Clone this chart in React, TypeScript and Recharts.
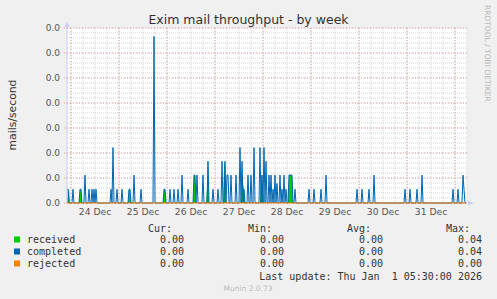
import { ComposedChart, Area, Line, XAxis, YAxis, CartesianGrid } from "recharts";

// half-hour slots on the x axis, oldest first
const SLOT_COUNT = 400;

const dayLabels = ["24 Dec", "25 Dec", "26 Dec", "27 Dec", "28 Dec", "29 Dec", "30 Dec", "31 Dec"];
const noonSlots = [28, 76, 124, 172, 220, 268, 316, 364];
const midnightSlots = [4, 52, 100, 148, 196, 244, 292, 340, 388];
const yTicks = [0, 0.006, 0.012, 0.018, 0.024, 0.03, 0.036, 0.042];

// mails/second, only the non-zero slots
const completedSlots = [
  0, 1, 6, 13, 14, 18, 22, 25, 27, 29, 44, 46, 50, 55, 62, 63, 67, 74, 87,
  97, 98, 103, 107, 111, 115, 121, 127, 128, 130, 136, 141, 146, 151, 155, 158,
  160, 161, 164, 169, 173, 175, 177, 181, 184, 187, 193, 195, 197, 199, 202,
  204, 206, 208, 210, 213, 215, 217, 219, 222, 223, 224, 225, 228, 242, 247,
  254, 259, 290, 295, 302, 307, 338, 343, 350, 355, 386, 391, 396, 397,
];
const completedValues = [
  0.0033, 0.0033, 0.0033, 0.0033, 0.0033, 0.0067, 0.0033, 0.0033, 0.0033, 0.0033, 0.0033, 0.0133, 0.0033, 0.0033, 0.0033, 0.0033, 0.0067, 0.0033, 0.04,
  0.0033, 0.0033, 0.0033, 0.0033, 0.0033, 0.0067, 0.0033, 0.0067, 0.0067, 0.0067, 0.0067, 0.01, 0.0033, 0.0033, 0.01, 0.01,
  0.0067, 0.0067, 0.0067, 0.0067, 0.0133, 0.01, 0.0033, 0.0067, 0.0067, 0.0133, 0.0133, 0.0067, 0.0133, 0.01, 0.0067,
  0.0067, 0.0033, 0.0067, 0.0047, 0.0067, 0.0033, 0.0067, 0.0033, 0.0067, 0.0067, 0.0067, 0.0067, 0.0033, 0.0033, 0.0033,
  0.0033, 0.0067, 0.0033, 0.0033, 0.0033, 0.0067, 0.0033, 0.0033, 0.0033, 0.0067, 0.0033, 0.0033, 0.0067, 0.0033,
];

const receivedSlots = [1, 2, 13, 14, 62, 63, 97, 98, 127, 128, 140, 141, 157, 158, 175, 176, 177, 194, 195, 196, 222, 223, 224, 225];
const receivedValues = [
  0.0033, 0.0033, 0.0033, 0.0033, 0.0033, 0.0033, 0.0033, 0.0033, 0.0067, 0.0067, 0.0033, 0.01,
  0.0083, 0.01, 0.0083, 0.0047, 0.0033, 0.0047, 0.0067, 0.0033, 0.0067, 0.0067, 0.0067, 0.0067,
];

const legendRows = [
  { name: "received", color: "#00CC00", cur: "0.00", min: "0.00", avg: "0.00", max: "0.04" },
  { name: "completed", color: "#0066B3", cur: "0.00", min: "0.00", avg: "0.00", max: "0.04" },
  { name: "rejected", color: "#FF8000", cur: "0.00", min: "0.00", avg: "0.00", max: "0.00" },
];

const rows = Array.from({ length: SLOT_COUNT }, (_, slot) => ({ slot, received: 0, completed: 0, rejected: 0 }));
completedSlots.forEach((s, i) => { rows[s].completed = completedValues[i]; });
receivedSlots.forEach((s, i) => { rows[s].received = receivedValues[i]; });

const minorX: number[] = [];
for (let s = 4; s <= SLOT_COUNT; s += 12) minorX.push(s);
const minorY: number[] = [];
for (let k = 0; k <= 35; k++) minorY.push(+(k * 0.0012).toFixed(4));

const sans = "DejaVu Sans, sans-serif";
const mono = "DejaVu Sans Mono, monospace";

export default function App() {
  const rowY = [243, 255, 267];
  return (
    <div style={{ position: "absolute", left: 0, top: 0, width: 497, height: 299, background: "#F0F0F0" }}>
      <ComposedChart width={497} height={299} data={rows} margin={{ top: 28, right: 30, bottom: 76, left: 7 }}>
        <CartesianGrid
          fill="#FFFFFF"
          stroke="#D4D4D4"
          strokeDasharray="1 1"
          horizontalValues={minorY}
          verticalValues={minorX}
        />
        <CartesianGrid
          stroke="#E4A0A0"
          strokeDasharray="1 2"
          horizontalValues={yTicks}
          verticalValues={midnightSlots}
        />
        <XAxis
          dataKey="slot"
          type="number"
          domain={[0, SLOT_COUNT]}
          ticks={noonSlots}
          interval={0}
          tickFormatter={(v: number) => dayLabels[noonSlots.indexOf(v)]}
          axisLine={false}
          tickLine={false}
          tickSize={0}
          tickMargin={5}
          height={20}
          tick={{ fontSize: 9.2, fill: "#555", fontFamily: sans }}
        />
        <YAxis
          type="number"
          domain={[0, 0.042]}
          ticks={yTicks}
          interval={0}
          tickFormatter={(v: number) => v.toFixed(1)}
          axisLine={false}
          tickLine={{ stroke: "#E4A0A0", strokeDasharray: "1 1" }}
          tickSize={3}
          tickMargin={4}
          width={60}
          tick={{ fontSize: 9, fill: "#555", fontFamily: sans }}
        />
        <Area type="linear" dataKey="received" stroke="none" fill="#00CC00" fillOpacity={1} isAnimationActive={false} />
        <Line type="linear" dataKey="completed" stroke="#0066B3" strokeWidth={1} dot={false} isAnimationActive={false} />
        <Line type="linear" dataKey="rejected" stroke="#FF8000" strokeWidth={1} dot={false} isAnimationActive={false} />
      </ComposedChart>

      <svg width={497} height={299} style={{ position: "absolute", left: 0, top: 0, pointerEvents: "none" }}>
        <line x1={67} y1={203} x2={67} y2={24} stroke="#C8CCF4" />
        <polygon points="64.5,27 69.5,27 67,21.5" fill="#C8CCF4" />
        <polygon points="468,200.5 468,205.5 473.5,203" fill="#C8CCF4" />

        <text x={248.5} y={24} textAnchor="middle" fontFamily={sans} fontSize={12.5} fill="#333">
          Exim mail throughput - by week
        </text>
        <text x={16} y={115} transform="rotate(-90 16 115)" textAnchor="middle" fontFamily={sans} fontSize={10.8} fill="#333">
          mails/second
        </text>
        <text x={485} y={5} transform="rotate(90 485 5)" fontFamily={sans} fontSize={7.5} fill="#B8B8B8">
          RRDTOOL / TOBI OETIKER
        </text>

        <g fontFamily={mono} fontSize={10} fill="#333">
          <text x={172} y={232} textAnchor="end">Cur:</text>
          <text x={272} y={232} textAnchor="end">Min:</text>
          <text x={371} y={232} textAnchor="end">Avg:</text>
          <text x={470} y={232} textAnchor="end">Max:</text>
          {legendRows.map((r, i) => (
            <g key={r.name}>
              <rect x={14} y={rowY[i] - 6.5} width={6} height={6} fill={r.color} />
              <text x={27} y={rowY[i]}>{r.name}</text>
              <text x={184} y={rowY[i]} textAnchor="end">{r.cur}</text>
              <text x={284} y={rowY[i]} textAnchor="end">{r.min}</text>
              <text x={383} y={rowY[i]} textAnchor="end">{r.avg}</text>
              <text x={482} y={rowY[i]} textAnchor="end">{r.max}</text>
            </g>
          ))}
          <text x={482} y={280} textAnchor="end" style={{ whiteSpace: "pre" }}>
            Last update: Thu Jan  1 05:30:00 2026
          </text>
        </g>
        <text x={248} y={290.5} textAnchor="middle" fontFamily={sans} fontSize={7.5} fill="#BBB">
          Munin 2.0.73
        </text>
      </svg>
    </div>
  );
}
